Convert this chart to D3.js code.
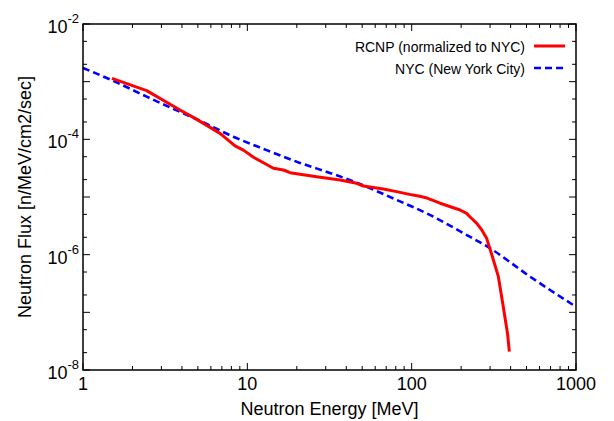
<!DOCTYPE html>
<html>
<head>
<meta charset="utf-8">
<script src="https://cdn.jsdelivr.net/npm/d3@7"></script>
<style>
    body { margin: 0; background: #fff; }
    text { font-family: "Liberation Sans", Arial, Helvetica, sans-serif; fill: #000; }
</style>
</head>
<body>
<div id="chart"></div>
<script>

// RCNP spectrum (normalized to NYC)
var rcnp_energy = [1.5, 2.44, 3.89, 4.81, 6.82, 8.42, 9.46, 10.9, 14.4, 16.6, 18.2, 26.4, 36.7,
                   46.3, 50.8, 67.3, 81, 100, 112, 124, 149, 197, 216, 226, 249, 267, 286, 310,
                   337, 361, 383, 393];
var rcnp_flux = [1.14e-3, 7.0e-4, 3.23e-4, 2.31e-4, 1.27e-4, 7.7e-5, 6.5e-5, 4.9e-5, 3.15e-5, 2.94e-5,
                 2.64e-5, 2.25e-5, 1.97e-5, 1.73e-5, 1.55e-5, 1.38e-5, 1.24e-5, 1.09e-5, 1.03e-5,
                 9.6e-6, 7.8e-6, 5.95e-6, 5.2e-6, 4.55e-6, 3.5e-6, 2.68e-6, 1.92e-6, 9.2e-7,
                 4.15e-7, 1.25e-7, 4.3e-8, 2.08e-8];

// NYC (New York City) reference spectrum
var nyc_energy = [1, 1.53, 2.44, 3.89, 5.15, 8.22, 13.1, 20.9, 33.4, 46.3, 81, 129, 207, 300, 526, 1000];
var nyc_flux = [1.73e-3, 1.03e-3, 5.5e-4, 3.0e-4, 2.1e-4, 1.11e-4, 6.5e-5, 3.9e-5, 2.5e-5, 1.77e-5,
                8.9e-6, 4.9e-6, 2.35e-6, 1.29e-6, 4.15e-7, 1.25e-7];

var x_labels = [1, 10, 100, 1000];
var y_labels = [-2, -4, -6, -8];
var y_decades = [-2, -3, -4, -5, -6, -7, -8];

var legend_names = ["RCNP (normalized to NYC)", "NYC (New York City)"];

window.onload = function() {

    var width = 614,
        height = 421,
        left = 83,
        right = 576,
        top = 24,
        bottom = 370;

    var svg = d3.select("#chart").append("svg")
        .attr("width", width)
        .attr("height", height);

    var x = d3.scaleLog()
        .domain([1, 1000])
        .range([left, right]);

    var y = d3.scaleLog()
        .domain([1e-8, 1e-2])
        .range([bottom, top]);

    // ticks on all four sides, pointing inwards
    var ticks = svg.append("g")
        .attr("stroke", "#000")
        .attr("stroke-width", 1);

    var x_ticks = [];
    for (var d = 1; d < 1000; d *= 10) {
        for (var m = 1; m < 10; m++) {
            x_ticks.push({v: d * m, major: m === 1});
        }
    }
    x_ticks.push({v: 1000, major: true});

    x_ticks.forEach(function(t) {
        var len = t.major ? 7 : 4,
            px = x(t.v);
        ticks.append("line").attr("x1", px).attr("x2", px).attr("y1", bottom).attr("y2", bottom - len);
        ticks.append("line").attr("x1", px).attr("x2", px).attr("y1", top).attr("y2", top + len);
    });

    // y: a major tick per decade, minor ones at 2 and 5
    var y_ticks = [];
    y_decades.forEach(function(e) {
        y_ticks.push({v: Math.pow(10, e), major: true});
        if (e === -2) return;
        y_ticks.push({v: 2 * Math.pow(10, e), major: false});
        y_ticks.push({v: 5 * Math.pow(10, e), major: false});
    });

    y_ticks.forEach(function(t) {
        var len = t.major ? 7 : 4,
            py = y(t.v);
        ticks.append("line").attr("x1", left).attr("x2", left + len).attr("y1", py).attr("y2", py);
        ticks.append("line").attr("x1", right).attr("x2", right - len).attr("y1", py).attr("y2", py);
    });

    // tick labels
    svg.append("g").selectAll("text")
        .data(x_labels)
        .enter().append("text")
        .attr("x", function(d) { return x(d); })
        .attr("y", bottom + 20)
        .attr("text-anchor", "middle")
        .style("font-size", "18px")
        .text(function(d) { return d; });

    var ylab = svg.append("g").selectAll("text")
        .data(y_labels)
        .enter().append("text")
        .attr("x", left - 4)
        .attr("y", function(d) { return y(Math.pow(10, d)) + 9; })
        .attr("text-anchor", "end")
        .style("font-size", "18px");

    ylab.append("tspan").text("10");
    ylab.append("tspan")
        .attr("dy", -10)
        .style("font-size", "13px")
        .text(function(d) { return d; });

    // axis titles
    svg.append("text")
        .attr("x", (left + right) / 2)
        .attr("y", 415)
        .attr("text-anchor", "middle")
        .style("font-size", "18px")
        .text("Neutron Energy [MeV]");

    svg.append("text")
        .attr("transform", "translate(31," + (top + bottom) / 2 + ") rotate(-90)")
        .attr("text-anchor", "middle")
        .style("font-size", "18px")
        .text("Neutron Flux [n/MeV/cm2/sec]");

    // curves
    var line = d3.line()
        .x(function(d) { return x(d[0]); })
        .y(function(d) { return y(d[1]); });

    var plot = svg.append("g");

    plot.append("path")
        .datum(d3.zip(nyc_energy, nyc_flux))
        .attr("d", line.curve(d3.curveMonotoneX))
        .attr("fill", "none")
        .attr("stroke", "#0000ff")
        .attr("stroke-width", 2.6)
        .attr("stroke-dasharray", "7,4");

    plot.append("path")
        .datum(d3.zip(rcnp_energy, rcnp_flux))
        .attr("d", line.curve(d3.curveLinear))
        .attr("fill", "none")
        .attr("stroke", "#ff0000")
        .attr("stroke-width", 3)
        .attr("stroke-linejoin", "round");

    // legend
    var legend = svg.append("g");
    var styles = [
        {color: "#ff0000", dash: null},
        {color: "#0000ff", dash: "7,4"}
    ];

    legend_names.forEach(function(name, i) {
        var ly = 46 + i * 22;
        legend.append("text")
            .attr("x", 525)
            .attr("y", ly + 6)
            .attr("text-anchor", "end")
            .style("font-size", "14px")
            .text(name);
        legend.append("line")
            .attr("x1", 534)
            .attr("x2", 565)
            .attr("y1", ly)
            .attr("y2", ly)
            .attr("stroke", styles[i].color)
            .attr("stroke-width", i === 0 ? 3 : 2.6)
            .attr("stroke-dasharray", styles[i].dash);
    });

    // frame
    svg.append("rect")
        .attr("x", left)
        .attr("y", top)
        .attr("width", right - left)
        .attr("height", bottom - top)
        .attr("fill", "none")
        .attr("stroke", "#000")
        .attr("stroke-width", 1.5);
};
</script>
</body>
</html>
